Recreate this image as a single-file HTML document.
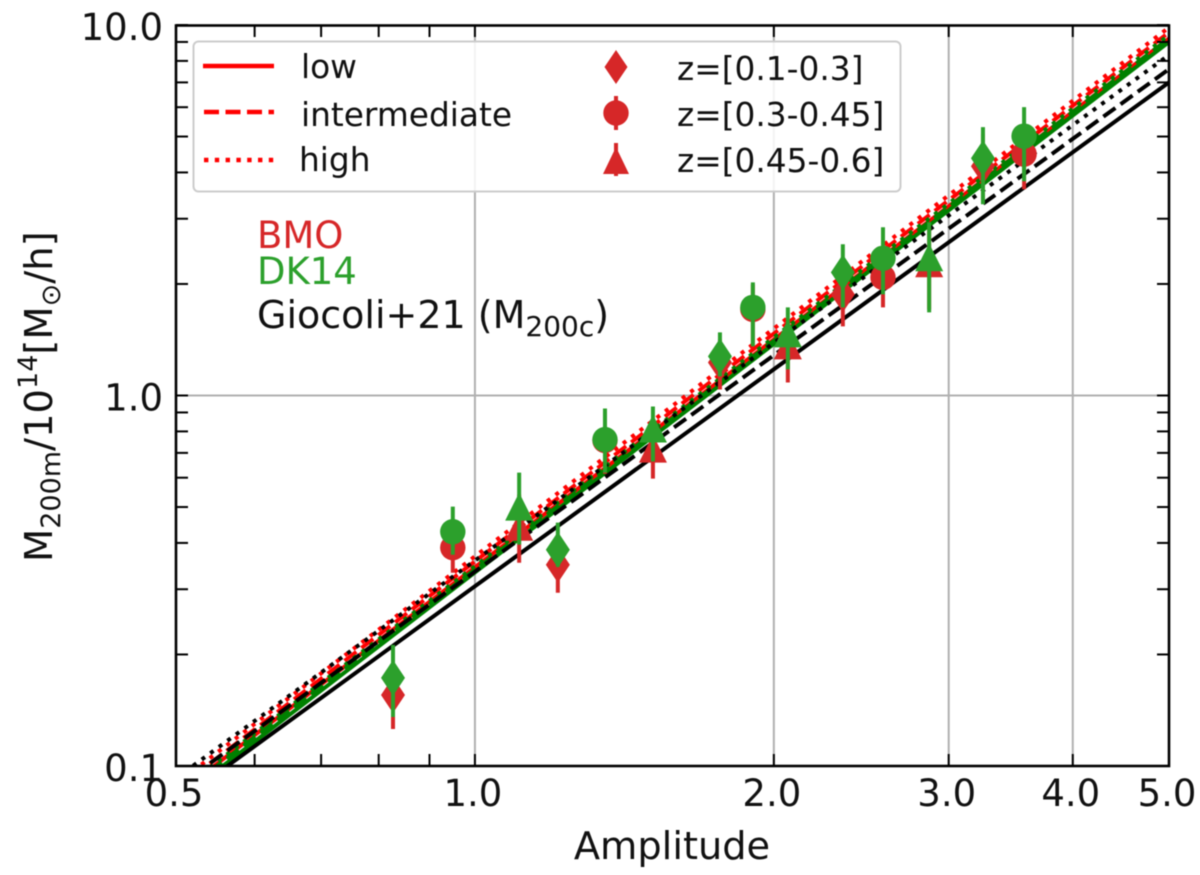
<!DOCTYPE html>
<html>
<head>
<meta charset="utf-8">
<style>
html,body{margin:0;padding:0;background:#fff;width:1200px;height:875px;overflow:hidden}
svg{display:block;filter:blur(0.5px)}
text{font-family:"DejaVu Sans","Liberation Sans",sans-serif;fill:#111}
</style>
</head>
<body>
<svg id="chart" width="1200" height="875" viewBox="0 0 1200 875" xmlns="http://www.w3.org/2000/svg">
<defs><clipPath id="plot-clip"><rect x="176" y="25" width="993" height="741"/></clipPath></defs>
<g id="grid"></g>
<g id="lines" clip-path="url(#plot-clip)"></g>
<g id="points" clip-path="url(#plot-clip)"></g>
<g id="ticks"></g>
<rect x="176" y="25.5" width="993" height="740.5" fill="none" stroke="#000" stroke-width="2.6"/>
<g id="tick-labels" font-size="37"></g>
<text x="672" y="859" text-anchor="middle" font-size="38.3">Amplitude</text>
<text transform="translate(52,562) rotate(-90)" font-size="38.5">M<tspan font-size="27" dy="8">200m</tspan><tspan dy="-8">/10</tspan><tspan font-size="27" dy="-15">14</tspan><tspan dy="15">[M</tspan><tspan font-size="27" dy="8">⊙</tspan><tspan dy="-8">/h]</tspan></text>
<g>
<text x="257" y="248" font-size="37" style="fill:#d62728">BMO</text>
<text x="257" y="284" font-size="37" style="fill:#2ca02c">DK14</text>
<text x="257" y="328" font-size="38">Giocoli+21 (M<tspan font-size="28" dy="8">200c</tspan><tspan dy="-8">)</tspan></text>
</g>
<g id="legend">
<rect x="193.5" y="41.5" width="707" height="150" rx="5" ry="5" fill="#fff" fill-opacity="0.85" stroke="#ccc" stroke-width="2"/>
<line x1="203" x2="274" y1="66" y2="66" stroke="#f00" stroke-width="4.4"/>
<line x1="204" x2="274" y1="112" y2="112" stroke="#f00" stroke-width="4.4" stroke-dasharray="15 6.5"/>
<line x1="204" x2="274" y1="160" y2="160" stroke="#f00" stroke-width="4.4" stroke-dasharray="4.4 6.4"/>
<g font-size="32.8">
<text x="301" y="78">low</text>
<text x="301" y="126">intermediate</text>
<text x="299" y="171">high</text>
<text x="677" y="80">z=[0.1-0.3]</text>
<text x="677" y="126">z=[0.3-0.45]</text>
<text x="677" y="172">z=[0.45-0.6]</text>
</g>
<g fill="#d62728" stroke="none">
<polygon points="616,50 627.5,67 616,84 604.5,67"/>
<rect x="614" y="96" width="4" height="34"/>
<circle cx="616" cy="113" r="12.7"/>
<rect x="614" y="143" width="4" height="33"/>
<polygon points="616,147 629,174 603,174"/>
</g>
</g>
</svg>
<script>
// Fit lines: masses read at amplitude 0.5, 1 and 5
const lineAmps = [0.5, 1, 5];
const redLow = [0.0835, 0.344, 9.2];
const redIntermediate = [0.0865, 0.3565, 9.55];
const redHigh = [0.0895, 0.368, 9.85];
const greenLow = [0.080, 0.333, 9.0];
const greenIntermediate = [0.0825, 0.339, 9.2];
const greenHigh = [0.0845, 0.346, 9.4];
const blackLow = [0.0793, 0.3055, 7.0];
const blackIntermediate = [0.0873, 0.3348, 7.6];
const blackHigh = [0.0927, 0.3585, 8.3];

// z=[0.1-0.3] diamonds
const ampDiamond = [0.827, 1.212, 1.765, 2.347, 3.248];
const bmoDiamond = [0.1555, 0.3494, 1.228, 1.875, 4.158];
const bmoDiamondLo = [0.1259, 0.2935, 1.038, 1.537, 3.386];
const bmoDiamondHi = [0.19, 0.42, 1.417, 2.26, 5.076];
const dkDiamond = [0.1729, 0.3835, 1.275, 2.15, 4.37];
const dkDiamondLo = [0.1356, 0.345, 1.126, 1.729, 3.282];
const dkDiamondHi = [0.2123, 0.4537, 1.48, 2.559, 5.301];

// z=[0.3-0.45] circles
const ampCircle = [0.95, 1.352, 1.905, 2.576, 3.573];
const bmoCircle = [0.3884, 0.7558, 1.708, 2.084, 4.482];
const bmoCircleLo = [0.3323, 0.615, 1.374, 1.729, 3.604];
const bmoCircleHi = [0.448, 0.9052, 1.995, 2.527, 5.401];
const dkCircle = [0.4289, 0.7605, 1.729, 2.346, 5.012];
const dkCircleLo = [0.3717, 0.6194, 1.357, 1.875, 3.788];
const dkCircleHi = [0.5012, 0.9223, 2.02, 2.845, 6.003];

// z=[0.45-0.6] triangles
const ampTriangle = [1.108, 1.511, 2.066, 2.867];
const bmoTriangle = [0.4397, 0.7146, 1.357, 2.26];
const bmoTriangleLo = [0.3537, 0.5966, 1.084, 1.708];
const bmoTriangleHi = [0.5402, 0.8613, 1.585, 2.845];
const dkTriangle = [0.4983, 0.8093, 1.462, 2.346];
const dkTriangleLo = [0.3957, 0.6633, 1.176, 1.676];
const dkTriangleHi = [0.6194, 0.9339, 1.729, 2.935];

// Axis ticks and labels
const xMajorTicks = [0.5, 1, 2, 3, 4, 5];
const xMinorTicks = [0.6, 0.7, 0.8, 0.9];
const xGridTicks = [1, 2, 3, 4];
const xTickLabels = ['0.5', '1.0', '2.0', '3.0', '4.0', '5.0'];
const yMajorTicks = [0.1, 1, 10];
const yMinorTicks = [0.2, 0.3, 0.4, 0.5, 0.6, 0.7, 0.8, 0.9, 2, 3, 4, 5, 6, 7, 8, 9];
const yGridTicks = [1];
const yTickLabels = ['0.1', '1.0', '10.0'];

const NS = 'http://www.w3.org/2000/svg';
const LEFT = 176, RIGHT = 1169, TOP = 25, BOTTOM = 766;
function xScale(a) { return LEFT + Math.log10(a / 0.5) * (RIGHT - LEFT); }
function yScale(m) { return BOTTOM - (Math.log10(m) + 1) / 2 * (BOTTOM - TOP); }
function make(tag, parent, attrs) {
  const el = document.createElementNS(NS, tag);
  for (const k in attrs) el.setAttribute(k, attrs[k]);
  parent.appendChild(el);
  return el;
}

const gridG = document.getElementById('grid');
xGridTicks.forEach(function (t) {
  const el = make('line', gridG, { x1: xScale(t), x2: xScale(t), y1: TOP, y2: BOTTOM, stroke: '#b0b0b0', 'stroke-width': 2 });
  
  
});
yGridTicks.forEach(function (t) {
  const el = make('line', gridG, { x1: LEFT, x2: RIGHT, y1: yScale(t), y2: yScale(t), stroke: '#b0b0b0', 'stroke-width': 2 });
  
  
});

const ticksG = document.getElementById('ticks');
xMajorTicks.concat(xMinorTicks).forEach(function (t) {
  const x = xScale(t);
  const bottomTick = make('line', ticksG, { x1: x, x2: x, y1: BOTTOM, y2: BOTTOM - 12, stroke: '#000', 'stroke-width': 2 });
  
  
  const topTick = make('line', ticksG, { x1: x, x2: x, y1: TOP, y2: TOP + 12, stroke: '#000', 'stroke-width': 2 });
  
  
});
yMajorTicks.concat(yMinorTicks).forEach(function (t) {
  const y = yScale(t);
  const leftTick = make('line', ticksG, { x1: LEFT, x2: LEFT + 12, y1: y, y2: y, stroke: '#000', 'stroke-width': 2 });
  
  
  const rightTick = make('line', ticksG, { x1: RIGHT, x2: RIGHT - 12, y1: y, y2: y, stroke: '#000', 'stroke-width': 2 });
  
  
});

const labelsG = document.getElementById('tick-labels');
xMajorTicks.forEach(function (t, i) {
  const el = make('text', labelsG, { x: xScale(t) - 2, y: 806, 'text-anchor': 'middle' });
  el.textContent = xTickLabels[i];
  
  
});
yMajorTicks.forEach(function (t, i) {
  const el = make('text', labelsG, { x: 163, y: yScale(t) + 15, 'text-anchor': 'end' });
  el.textContent = yTickLabels[i];
  
  
});

const linesG = document.getElementById('lines');
function drawLine(values, color, width, dash, name) {
  const pts = lineAmps.map(function (a, i) { return xScale(a) + ',' + yScale(values[i]); }).join(' ');
  const el = make('polyline', linesG, { points: pts, fill: 'none', stroke: color, 'stroke-width': width });
  if (dash) el.setAttribute('stroke-dasharray', dash);
  
  
}
const DASHED = '14.8 6.4', DOTTED = '4 6.6';
drawLine(redLow, '#ff0000', 4, '', 'bmo-low-line');
drawLine(redIntermediate, '#ff0000', 4, DASHED, 'bmo-intermediate-line');
drawLine(redHigh, '#ff0000', 4, DOTTED, 'bmo-high-line');
drawLine(greenLow, '#008000', 4, '', 'dk14-low-line');
drawLine(greenIntermediate, '#008000', 4, DASHED, 'dk14-intermediate-line');
drawLine(greenHigh, '#008000', 4, DOTTED, 'dk14-high-line');
drawLine(blackLow, '#000000', 4, '', 'giocoli-low-line');
drawLine(blackIntermediate, '#000000', 4, DASHED, 'giocoli-intermediate-line');
drawLine(blackHigh, '#000000', 4, DOTTED, 'giocoli-high-line');

const pointsG = document.getElementById('points');
function drawSeries(amps, vals, los, his, color, shape, name) {
  amps.forEach(function (a, i) {
    const x = xScale(a), y = yScale(vals[i]);
    const bar = make('line', pointsG, { x1: x, x2: x, y1: yScale(los[i]), y2: yScale(his[i]), stroke: color, 'stroke-width': 4 });
    
    
    let mark;
    if (shape === 'circle') {
      mark = make('circle', pointsG, { cx: x, cy: y, r: 12.7, fill: color });
    } else if (shape === 'diamond') {
      mark = make('polygon', pointsG, { points: [x + ',' + (y - 18), (x + 12) + ',' + y, x + ',' + (y + 18), (x - 12) + ',' + y].join(' '), fill: color });
    } else {
      mark = make('polygon', pointsG, { points: [x + ',' + (y - 15), (x + 14) + ',' + (y + 13), (x - 14) + ',' + (y + 13)].join(' '), fill: color });
    }
    
    
  });
}
const TABRED = '#d62728', TABGREEN = '#2ca02c';
drawSeries(ampDiamond, bmoDiamond, bmoDiamondLo, bmoDiamondHi, TABRED, 'diamond', 'bmo-z1');
drawSeries(ampCircle, bmoCircle, bmoCircleLo, bmoCircleHi, TABRED, 'circle', 'bmo-z2');
drawSeries(ampTriangle, bmoTriangle, bmoTriangleLo, bmoTriangleHi, TABRED, 'triangle', 'bmo-z3');
drawSeries(ampDiamond, dkDiamond, dkDiamondLo, dkDiamondHi, TABGREEN, 'diamond', 'dk14-z1');
drawSeries(ampCircle, dkCircle, dkCircleLo, dkCircleHi, TABGREEN, 'circle', 'dk14-z2');
drawSeries(ampTriangle, dkTriangle, dkTriangleLo, dkTriangleHi, TABGREEN, 'triangle', 'dk14-z3');
</script>
</body>
</html>
